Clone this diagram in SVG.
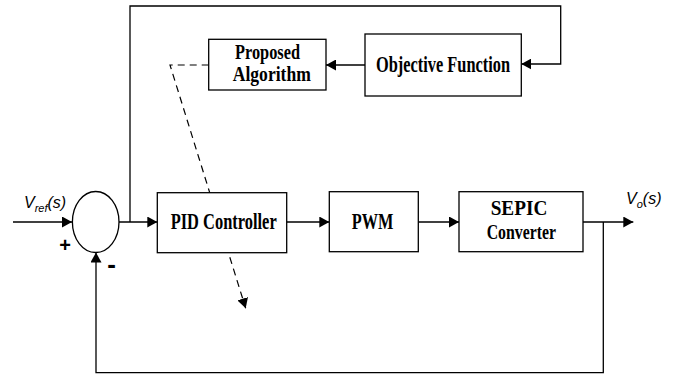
<svg xmlns="http://www.w3.org/2000/svg" width="688" height="377" viewBox="0 0 688 377">
<style>
.box{fill:#fff;stroke:#000;stroke-width:1.3}
.ln{fill:none;stroke:#000;stroke-width:1.3}
.dash{fill:none;stroke:#000;stroke-width:1.2;stroke-dasharray:7 5}
.lbl{font-family:"Liberation Serif","Times New Roman",serif;font-weight:bold;font-size:23px;fill:#000;text-anchor:middle}
.lbl2{font-size:20.5px}
.sig{font-family:"Liberation Sans",Arial,sans-serif;font-style:italic;font-size:16px;fill:#000}
.sign{font-family:"Liberation Sans",Arial,sans-serif;font-weight:bold;fill:#000;text-anchor:middle}
</style>
<defs>
<marker id="ah" markerUnits="userSpaceOnUse" markerWidth="11" markerHeight="11" refX="10" refY="5.5" orient="auto">
<path d="M0,0 L10,5.5 L0,11 z" fill="#000"/>
</marker>
</defs>
<rect width="688" height="377" fill="#fff"/>
<g id="connectors">
<line class="ln" x1="13" y1="222" x2="72" y2="222" marker-end="url(#ah)"/>
<line class="ln" x1="119" y1="222" x2="157.3" y2="222" marker-end="url(#ah)"/>
<polyline class="ln" points="130,222 130,6 560.7,6 560.7,64 521.3,64" marker-end="url(#ah)"/>
<line class="ln" x1="365" y1="65" x2="326" y2="65" marker-end="url(#ah)"/>
<line class="ln" x1="286.7" y1="222" x2="329.3" y2="222" marker-end="url(#ah)"/>
<line class="ln" x1="418.3" y1="222" x2="459" y2="222" marker-end="url(#ah)"/>
<line class="ln" x1="583" y1="222" x2="633.3" y2="222" marker-end="url(#ah)"/>
<polyline class="ln" points="603.3,222 603.3,372.7 96,372.7 96,252.5" marker-end="url(#ah)"/>
<polyline class="dash" points="208.7,65 170,65 245.7,308.3" marker-end="url(#ah)"/>
</g>
<g id="sum">
<ellipse class="box" cx="95.7" cy="222" rx="23.3" ry="30.5"/>
<text class="sign" x="65" y="251.5" font-size="20">+</text>
<text class="sign" x="111.7" y="273" font-size="26">-</text>
</g>
<g id="proposed">
<rect class="box" x="208.7" y="39.3" width="117.3" height="50.7"/>
<text class="lbl lbl2" x="267.5" y="58.5" textLength="65" lengthAdjust="spacingAndGlyphs">Proposed</text>
<text class="lbl lbl2" x="271.8" y="81" textLength="78" lengthAdjust="spacingAndGlyphs">Algorithm</text>
</g>
<g id="objective">
<rect class="box" x="365" y="34" width="156.3" height="62"/>
<text class="lbl" x="443" y="72.3" textLength="134" lengthAdjust="spacingAndGlyphs">Objective Function</text>
</g>
<g id="pid">
<rect class="box" x="157.3" y="192.7" width="129.4" height="60"/>
<text class="lbl" x="223.7" y="228.8" textLength="106" lengthAdjust="spacingAndGlyphs">PID Controller</text>
</g>
<g id="pwm">
<rect class="box" x="329.3" y="191.7" width="89" height="60"/>
<text class="lbl" x="372.5" y="228.8" textLength="41.6" lengthAdjust="spacingAndGlyphs">PWM</text>
</g>
<g id="sepic">
<rect class="box" x="459" y="191.7" width="124" height="60"/>
<text class="lbl lbl2" x="519" y="214.5" textLength="56.7" lengthAdjust="spacingAndGlyphs">SEPIC</text>
<text class="lbl lbl2" x="521.3" y="238.5" textLength="69.3" lengthAdjust="spacingAndGlyphs">Converter</text>
</g>
<g id="vref">
<text class="sig" x="24" y="208">V<tspan font-size="11" dy="4">ref</tspan><tspan dy="-4">(s)</tspan></text>
</g>
<g id="vo">
<text class="sig" x="626" y="203.5">V<tspan font-size="11" dy="4">o</tspan><tspan dy="-4">(s)</tspan></text>
</g>
</svg>
